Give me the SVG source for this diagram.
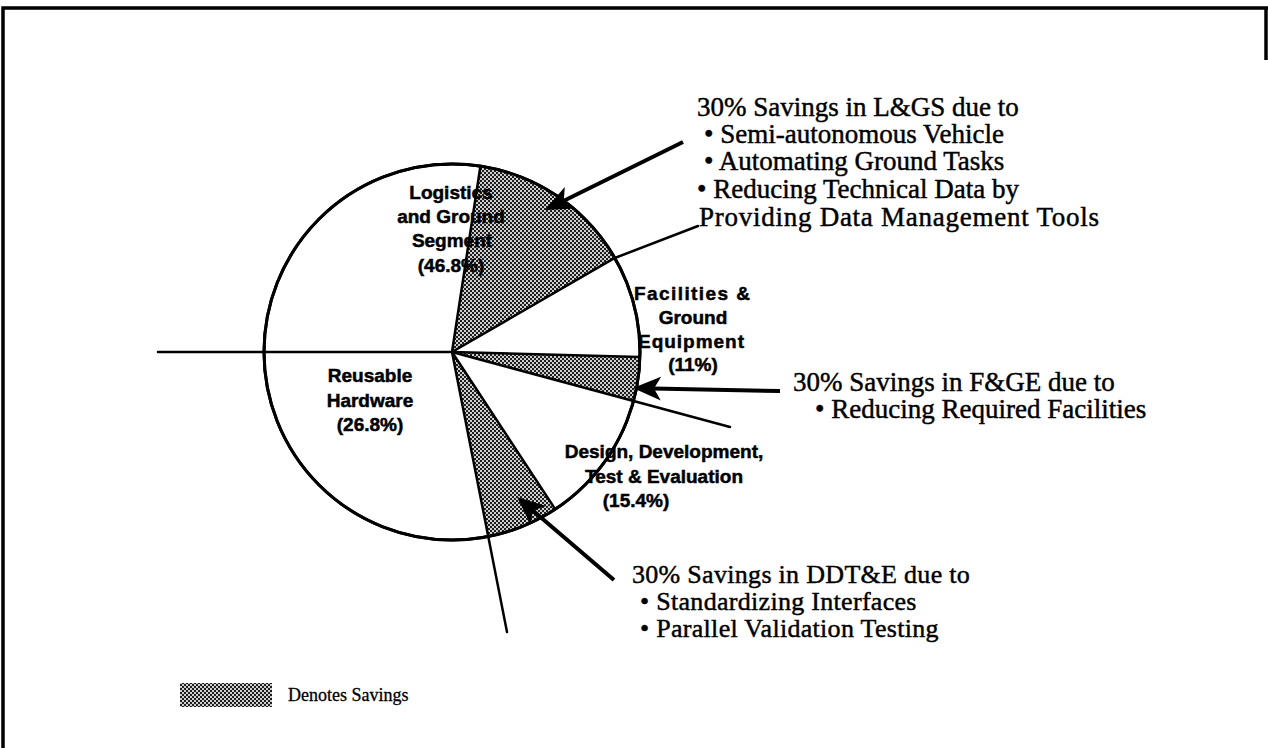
<svg xmlns="http://www.w3.org/2000/svg" width="1268" height="748" viewBox="0 0 1268 748">
  <defs>
    <!-- halftone dot screen used for the savings shares -->
    <pattern id="screen" width="4" height="4" patternUnits="userSpaceOnUse">
      <rect width="4" height="4" fill="#cfcfcf"/>
      <rect width="2" height="2" fill="#1e1e1e"/>
      <rect x="2" y="2" width="2" height="2" fill="#1e1e1e"/>
    </pattern>
    <marker id="head" viewBox="0 -14 30 28" markerWidth="30" markerHeight="28" refX="8" refY="0" orient="auto" markerUnits="userSpaceOnUse">
      <path d="M0,-12 L28,0 L0,12 L7,0 Z" fill="#000"/>
    </marker>
    <style>
      .frame { stroke: #000; stroke-width: 3.5; fill: none; }
      .rim { stroke: #000; stroke-width: 3; fill: #fff; }
      .cut { stroke: #000; stroke-width: 2.5; fill: none; stroke-linecap: round; }
      .shade { fill: url(#screen); stroke: none; }
      .pointer { stroke: #000; stroke-width: 4; fill: none; marker-end: url(#head); }
      .slice { font-family: "Liberation Sans", Arial, sans-serif; font-weight: bold; font-size: 19px; fill: #000; stroke: #000; stroke-width: 0.5; text-anchor: middle; }
      .note { font-family: "Liberation Serif", "Times New Roman", serif; font-size: 27px; fill: #000; stroke: #000; stroke-width: 0.45; }
      .note.tight { font-size: 26px; letter-spacing: 0.3px; }
      .key { font-family: "Liberation Serif", "Times New Roman", serif; font-size: 18px; fill: #000; stroke: #000; stroke-width: 0.3; }
    </style>
  </defs>

  <rect width="1268" height="748" fill="#fff"/>

  <!-- page frame -->
  <g id="frame">
    <path class="frame" d="M3,748 L3,8 L1268,8"/>
    <path class="frame" d="M1266,8 L1266,60"/>
  </g>

  <!-- pie: disc, savings wedges, cut lines -->
  <g id="pie">
    <circle class="rim" cx="452" cy="352" r="188"/>
    <path class="shade" d="M452,352 L480.4,166.2 A188,188 0 0,1 614.8,258 Z"/>
    <path class="shade" d="M452,352 L639.9,356.9 A188,188 0 0,1 633.6,400.7 Z"/>
    <path class="shade" d="M452,352 L555.2,509.1 A188,188 0 0,1 487.9,536.5 Z"/>
    <circle cx="452" cy="352" r="188" fill="none" stroke="#000" stroke-width="3"/>
    <path class="cut" d="M158,352 L452,352"/>
    <path class="cut" d="M452,352 L480.4,166.2"/>
    <path class="cut" d="M452,352 L614.8,258 L698,226"/>
    <path class="cut" d="M452,352 L639.9,356.9"/>
    <path class="cut" d="M452,352 L730,427"/>
    <path class="cut" d="M452,352 L555.2,509.1"/>
    <path class="cut" d="M452,352 L507,632"/>
  </g>

  <g id="lgs">
    <text class="slice" x="451" y="199">Logistics</text>
    <text class="slice" x="451" y="223">and Ground</text>
    <text class="slice" x="452" y="247">Segment</text>
    <text class="slice" x="451" y="272">(46.8%)</text>
  </g>

  <g id="fge">
    <text class="slice" x="692" y="300" textLength="116" lengthAdjust="spacing">Facilities &amp;</text>
    <text class="slice" x="693" y="324">Ground</text>
    <text class="slice" x="691" y="348" textLength="106" lengthAdjust="spacing">Equipment</text>
    <text class="slice" x="693" y="371">(11%)</text>
  </g>

  <g id="ddte">
    <text class="slice" x="664" y="458">Design, Development,</text>
    <text class="slice" x="664" y="483">Test &amp; Evaluation</text>
    <text class="slice" x="636" y="507">(15.4%)</text>
  </g>

  <g id="hardware">
    <text class="slice" x="370" y="382">Reusable</text>
    <text class="slice" x="370" y="407">Hardware</text>
    <text class="slice" x="370" y="431">(26.8%)</text>
  </g>

  <!-- savings notes -->
  <g id="note-lgs">
    <text class="note" x="697" y="116">30% Savings in L&amp;GS due to</text>
    <text class="note" x="704" y="143">• Semi-autonomous Vehicle</text>
    <text class="note" x="704" y="170">• Automating Ground Tasks</text>
    <text class="note" x="697" y="198">• Reducing Technical Data by</text>
    <text class="note" x="699" y="226" textLength="400" lengthAdjust="spacing">Providing Data Management Tools</text>
  </g>

  <g id="note-fge">
    <text class="note" x="793" y="391">30% Savings in F&amp;GE due to</text>
    <text class="note" x="815" y="418">• Reducing Required Facilities</text>
  </g>

  <g id="note-ddte">
    <text class="note tight" x="632" y="583">30% Savings in DDT&amp;E due to</text>
    <text class="note tight" x="640" y="610">• Standardizing Interfaces</text>
    <text class="note tight" x="640" y="637">• Parallel Validation Testing</text>
  </g>

  <g id="connectors">
    <path class="pointer" d="M683,142 L562.9,201.2"/>
    <path class="pointer" d="M780,391 L653,388.4"/>
    <path class="pointer" d="M614,580 L532.2,510"/>
  </g>

  <g id="legend">
    <rect x="180" y="683" width="92" height="24" fill="url(#screen)"/>
    <text class="key" x="288" y="701">Denotes Savings</text>
  </g>
</svg>
